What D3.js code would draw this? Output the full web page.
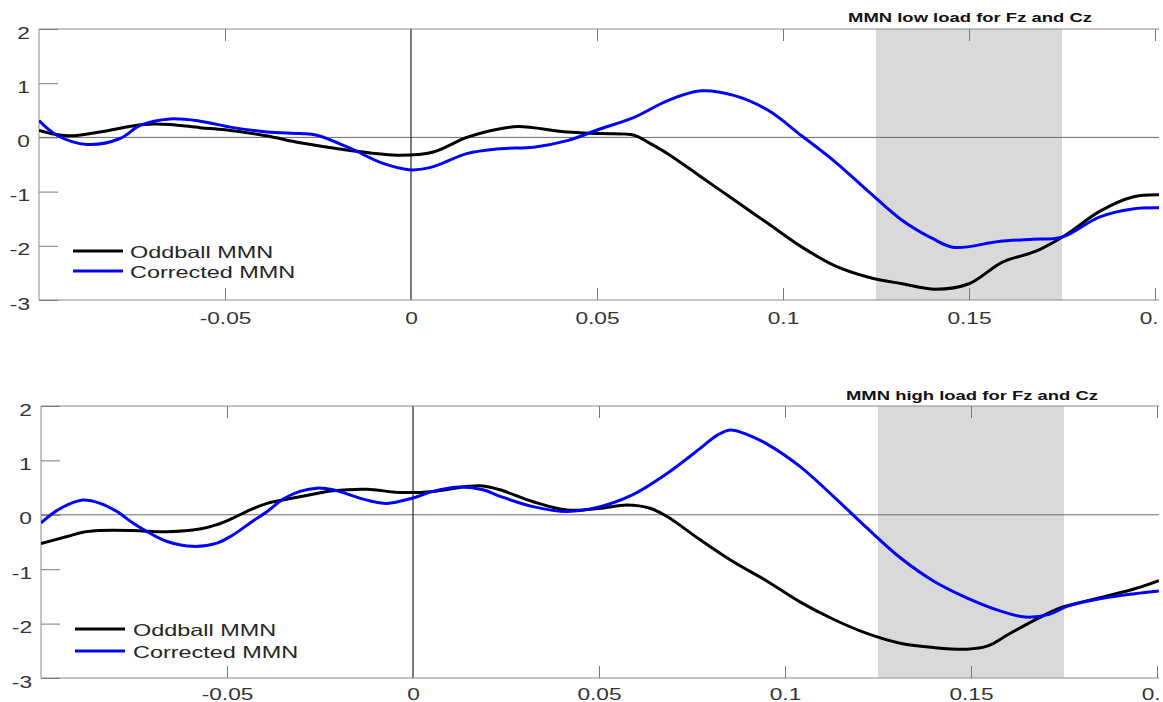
<!DOCTYPE html>
<html>
<head>
<meta charset="utf-8">
<script src="https://cdn.jsdelivr.net/npm/d3@7"></script>
<style>
  html, body { margin: 0; padding: 0; background: #fff; }
  svg { display: block; }
  text { font-family: "Liberation Sans", Arial, Helvetica, sans-serif; }
</style>
</head>
<body>
<svg id="chart" width="1163" height="702"></svg>
<script>
// ---------------- data ----------------
const xTickValues = [-0.05, 0, 0.05, 0.1, 0.15, 0.2];
const xTickLabels = ["-0.05", "0", "0.05", "0.1", "0.15", "0.2"];
const yTickValues = [-3, -2, -1, 0, 1, 2];
const yTickLabels = ["-3", "-2", "-1", "0", "1", "2"];
const seriesNames = ["Oddball MMN", "Corrected MMN"];
const panelTitles = ["MMN low load for Fz and Cz", "MMN high load for Fz and Cz"];
const shadedWindow = [0.125, 0.175];

// Panel 1 (low load)
const lowOddballTime = [-0.1, -0.0957, -0.0909, -0.0836, -0.072, -0.0648, -0.0567, -0.05, -0.039, -0.0298, -0.0164, -0.003, 0.006, 0.015, 0.024, 0.029, 0.042, 0.051, 0.06, 0.064, 0.069, 0.078, 0.087, 0.096, 0.105, 0.114, 0.123, 0.132, 0.141, 0.15, 0.159, 0.168, 0.176, 0.185, 0.194, 0.2012];
const lowOddball = [0.13, 0.06, 0.03, 0.1, 0.24, 0.24, 0.18, 0.14, 0.03, -0.1, -0.24, -0.33, -0.27, 0.0, 0.16, 0.2, 0.1, 0.07, 0.04, -0.1, -0.3, -0.73, -1.16, -1.59, -2.02, -2.37, -2.58, -2.7, -2.8, -2.7, -2.3, -2.1, -1.8, -1.37, -1.1, -1.06];
const lowCorrectedTime = [-0.1, -0.0952, -0.0871, -0.0782, -0.0728, -0.0648, -0.0567, -0.0478, -0.0387, -0.0298, -0.0253, -0.0164, -0.0075, 0.0, 0.006, 0.015, 0.024, 0.033, 0.042, 0.051, 0.06, 0.069, 0.078, 0.087, 0.096, 0.105, 0.114, 0.123, 0.132, 0.14, 0.146, 0.158, 0.167, 0.175, 0.185, 0.194, 0.2012];
const lowCorrected = [0.31, 0.04, -0.13, -0.02, 0.22, 0.34, 0.3, 0.18, 0.1, 0.07, 0.04, -0.2, -0.48, -0.6, -0.54, -0.3, -0.21, -0.18, -0.06, 0.16, 0.37, 0.68, 0.86, 0.77, 0.5, 0.03, -0.45, -1.0, -1.53, -1.86, -2.03, -1.92, -1.88, -1.84, -1.47, -1.32, -1.3];

// Panel 2 (high load)
const highOddballTime = [-0.1, -0.093, -0.0887, -0.0841, -0.0753, -0.0661, -0.0573, -0.0527, -0.0484, -0.0438, -0.0392, -0.0304, -0.0215, -0.0124, -0.0035, 0.0054, 0.0145, 0.0188, 0.0234, 0.0323, 0.0414, 0.0503, 0.0575, 0.0637, 0.0683, 0.0772, 0.086, 0.0952, 0.104, 0.113, 0.122, 0.131, 0.14, 0.149, 0.1545, 0.16, 0.167, 0.1745, 0.185, 0.194, 0.2005];
const highOddball = [-0.53, -0.4, -0.32, -0.29, -0.29, -0.31, -0.26, -0.18, -0.06, 0.09, 0.21, 0.33, 0.44, 0.47, 0.41, 0.43, 0.52, 0.53, 0.46, 0.24, 0.09, 0.12, 0.18, 0.12, -0.03, -0.46, -0.86, -1.22, -1.6, -1.92, -2.18, -2.36, -2.44, -2.47, -2.41, -2.2, -1.94, -1.7, -1.52, -1.36, -1.21];
const highCorrectedTime = [-0.1, -0.0968, -0.093, -0.0887, -0.0841, -0.0796, -0.0753, -0.0707, -0.0661, -0.0591, -0.0527, -0.0484, -0.0438, -0.0392, -0.0349, -0.0304, -0.0258, -0.0215, -0.0124, -0.007, 0.0, 0.0054, 0.0126, 0.0188, 0.0234, 0.0323, 0.0414, 0.0503, 0.0591, 0.0683, 0.0772, 0.0817, 0.0852, 0.0897, 0.0952, 0.104, 0.113, 0.122, 0.131, 0.14, 0.149, 0.158, 0.1645, 0.171, 0.176, 0.185, 0.194, 0.2005];
const highCorrected = [-0.15, 0.03, 0.18, 0.27, 0.21, 0.06, -0.15, -0.34, -0.49, -0.58, -0.52, -0.37, -0.15, 0.06, 0.29, 0.43, 0.49, 0.46, 0.27, 0.21, 0.31, 0.43, 0.51, 0.46, 0.34, 0.15, 0.06, 0.15, 0.37, 0.76, 1.22, 1.46, 1.56, 1.48, 1.3, 0.89, 0.34, -0.24, -0.79, -1.22, -1.53, -1.77, -1.88, -1.83, -1.68, -1.54, -1.45, -1.4];

// ---------------- drawing ----------------
const svg = d3.select("#chart");
const SX = 1.42; // horizontal stretch of the original raster

svg.append("defs").append("clipPath").attr("id", "pageClip")
  .append("rect").attr("x", 0).attr("y", 0).attr("width", 1159).attr("height", 702);

const root = svg.append("g").attr("clip-path", "url(#pageClip)");

const panels = [
  {
    title: panelTitles[0], titleX: 970, titleY: 21.5, labelY: 24,
    xRange: [39, 1155], yRange: [300, 29],
    series: [
      { t: lowOddballTime, v: lowOddball, color: "#000000" },
      { t: lowCorrectedTime, v: lowCorrected, color: "#0000ff" }
    ],
    legend: { x1: 73, x2: 123, tx: 130, rows: [251, 271] }
  },
  {
    title: panelTitles[1], titleX: 972, titleY: 399.5, labelY: 22,
    xRange: [41, 1157], yRange: [678, 406],
    series: [
      { t: highOddballTime, v: highOddball, color: "#000000" },
      { t: highCorrectedTime, v: highCorrected, color: "#0000ff" }
    ],
    legend: { x1: 75, x2: 125, tx: 133, rows: [629, 651] }
  }
];

panels.forEach((p, pi) => {
  const x = d3.scaleLinear().domain([-0.1, 0.2]).range(p.xRange);
  const y = d3.scaleLinear().domain([-3, 2]).range(p.yRange);
  const g = root.append("g");
  const left = p.xRange[0], right = 1163, top = p.yRange[1], bottom = p.yRange[0];

  const cid = "plotClip" + pi;
  svg.select("defs").append("clipPath").attr("id", cid)
    .append("rect").attr("x", left).attr("y", top).attr("width", right - left).attr("height", bottom - top);

  // shaded window
  g.append("rect")
    .attr("x", x(shadedWindow[0])).attr("y", top)
    .attr("width", x(shadedWindow[1]) - x(shadedWindow[0]))
    .attr("height", bottom - top)
    .attr("fill", "#d9d9d9");

  // zero lines
  g.append("line").attr("x1", left).attr("x2", right).attr("y1", y(0)).attr("y2", y(0))
    .attr("stroke", "#6a6a6a").attr("stroke-width", 1);
  g.append("line").attr("x1", x(0)).attr("x2", x(0)).attr("y1", top).attr("y2", bottom)
    .attr("stroke", "#222").attr("stroke-width", 1.2);

  // box
  g.append("line").attr("x1", left).attr("x2", right).attr("y1", top).attr("y2", top)
    .attr("stroke", "#8a8a8a").attr("stroke-width", 1);
  g.append("line").attr("x1", left).attr("x2", right).attr("y1", bottom).attr("y2", bottom)
    .attr("stroke", "#8a8a8a").attr("stroke-width", 1);
  g.append("line").attr("x1", left).attr("x2", left).attr("y1", top).attr("y2", bottom)
    .attr("stroke", "#8a8a8a").attr("stroke-width", 1);

  // x axis bottom
  const xAxis = g.append("g").attr("transform", `translate(0,${bottom})`)
    .call(d3.axisBottom(x).tickValues(xTickValues)
      .tickFormat((d, i) => xTickLabels[i]).tickSize(-12).tickPadding(0));
  xAxis.select(".domain").remove();
  xAxis.selectAll(".tick line").attr("stroke", "#7a7a7a");
  xAxis.selectAll(".tick text")
    .attr("y", p.labelY).attr("dy", 0)
    .attr("transform", `scale(${SX},1)`)
    .attr("fill", "#333").attr("font-size", 16)
    .attr("font-family", "'Liberation Sans', Arial, sans-serif");

  // x axis top ticks
  const xTop = g.append("g").attr("transform", `translate(0,${top})`)
    .call(d3.axisTop(x).tickValues(xTickValues).tickFormat("").tickSize(-12));
  xTop.select(".domain").remove();
  xTop.selectAll(".tick line").attr("stroke", "#7a7a7a");

  // y axis
  const yAxis = g.append("g").attr("transform", `translate(${left},0)`)
    .call(d3.axisLeft(y).tickValues(yTickValues)
      .tickFormat((d, i) => yTickLabels[i]).tickSize(-19).tickPadding(0));
  yAxis.select(".domain").remove();
  yAxis.selectAll(".tick line").attr("stroke", "#7a7a7a");
  yAxis.selectAll(".tick text")
    .attr("x", -9 / SX).attr("dy", 9)
    .attr("transform", `scale(${SX},1)`)
    .attr("fill", "#333").attr("font-size", 16)
    .attr("font-family", "'Liberation Sans', Arial, sans-serif");

  // series lines
  const lineGen = d3.line().x(d => x(d[0])).y(d => y(d[1])).curve(d3.curveCatmullRom.alpha(0.5));
  const lines = g.append("g").attr("clip-path", `url(#${cid})`);
  p.series.forEach(s => {
    const pts = s.t.map((t, i) => [t, s.v[i]]);
    lines.append("path").datum(pts)
      .attr("d", lineGen)
      .attr("fill", "none")
      .attr("stroke", s.color)
      .attr("stroke-width", 3)
      .attr("stroke-linejoin", "round");
  });

  // title
  g.append("g").attr("transform", `translate(${p.titleX},${p.titleY}) scale(${SX},1)`)
    .append("text")
    .attr("text-anchor", "middle")
    .attr("font-size", 13).attr("font-weight", "bold")
    .attr("fill", "#111")
    .text(p.title);

  // legend
  p.series.forEach((s, i) => {
    const ly = p.legend.rows[i];
    g.append("line").attr("x1", p.legend.x1).attr("x2", p.legend.x2)
      .attr("y1", ly).attr("y2", ly)
      .attr("stroke", s.color).attr("stroke-width", 3);
    g.append("g").attr("transform", `translate(${p.legend.tx},${ly + 6.5}) scale(${SX},1)`)
      .append("text")
      .attr("font-size", 16.5).attr("fill", "#262626")
      .text(seriesNames[i]);
  });
});
</script>
</body>
</html>
